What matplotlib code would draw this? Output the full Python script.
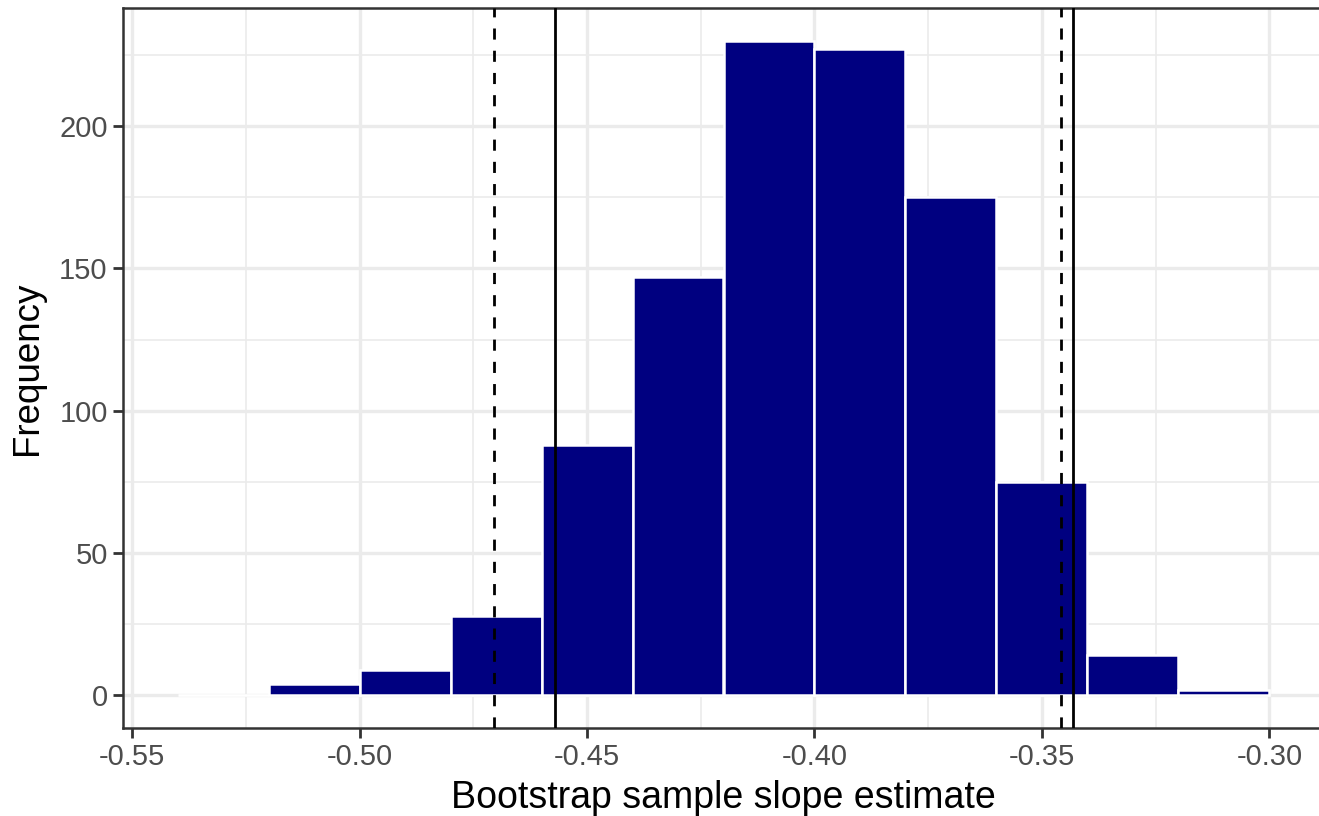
import matplotlib
matplotlib.use("Agg")
import matplotlib.pyplot as plt
import numpy as np

# histogram of bootstrap slope estimates (bin width 0.02)
bin_edges = [-0.54, -0.52, -0.50, -0.48, -0.46, -0.44, -0.42, -0.40, -0.38, -0.36, -0.34, -0.32, -0.30]
counts = [0, 4, 9, 28, 88, 147, 230, 227, 175, 75, 14, 2]

# interval lines
dashed_lines = [-0.4705, -0.3459]
solid_lines = [-0.457, -0.3431]

x_ticks = [-0.55, -0.50, -0.45, -0.40, -0.35, -0.30]
x_tick_labels = ["-0.55", "-0.50", "-0.45", "-0.40", "-0.35", "-0.30"]
y_ticks = [0, 50, 100, 150, 200]

plt.rcParams['font.family'] = ['Liberation Sans', 'DejaVu Sans']

fig = plt.figure(figsize=(13.19, 8.16), dpi=100)
ax = fig.add_axes([123 / 1319, 88 / 816, (1324 - 123) / 1319, 720 / 816])

lefts = np.array(bin_edges[:-1])
widths = np.diff(bin_edges)
ax.bar(lefts, counts, width=widths, align="edge", color="#000080",
       edgecolor="white", linewidth=1.8, zorder=3)

for x in dashed_lines:
    ax.axvline(x, color="black", linewidth=2.0, linestyle=(0, (4, 4)), zorder=4)
for x in solid_lines:
    ax.axvline(x, color="black", linewidth=2.0, zorder=4)

span = bin_edges[-1] - bin_edges[0]
ax.set_xlim(bin_edges[0] - 0.05 * span, bin_edges[-1] + 0.05 * span)
ax.set_ylim(-0.05 * max(counts), 1.05 * max(counts))

ax.set_xticks(x_ticks)
ax.set_xticklabels(x_tick_labels)
ax.set_yticks(y_ticks)
ax.set_xticks([-0.525, -0.475, -0.425, -0.375, -0.325], minor=True)
ax.set_yticks([25, 75, 125, 175, 225], minor=True)

ax.grid(which="major", color="#EBEBEB", linewidth=2.4, zorder=0)
ax.grid(which="minor", color="#EBEBEB", linewidth=1.2, zorder=0)
ax.set_axisbelow(True)

for s in ax.spines.values():
    s.set_color("#333333")
    s.set_linewidth(1.8)

ax.tick_params(which="major", length=7, width=2.0, color="#333333",
               labelsize=21, labelcolor="#4D4D4D", pad=4)
ax.tick_params(which="minor", length=0)

ax.set_xlabel("Bootstrap sample slope estimate", fontsize=27, labelpad=6)
ax.set_ylabel("Frequency", fontsize=26.5, labelpad=10)

fig.savefig("out.png", dpi=100)
